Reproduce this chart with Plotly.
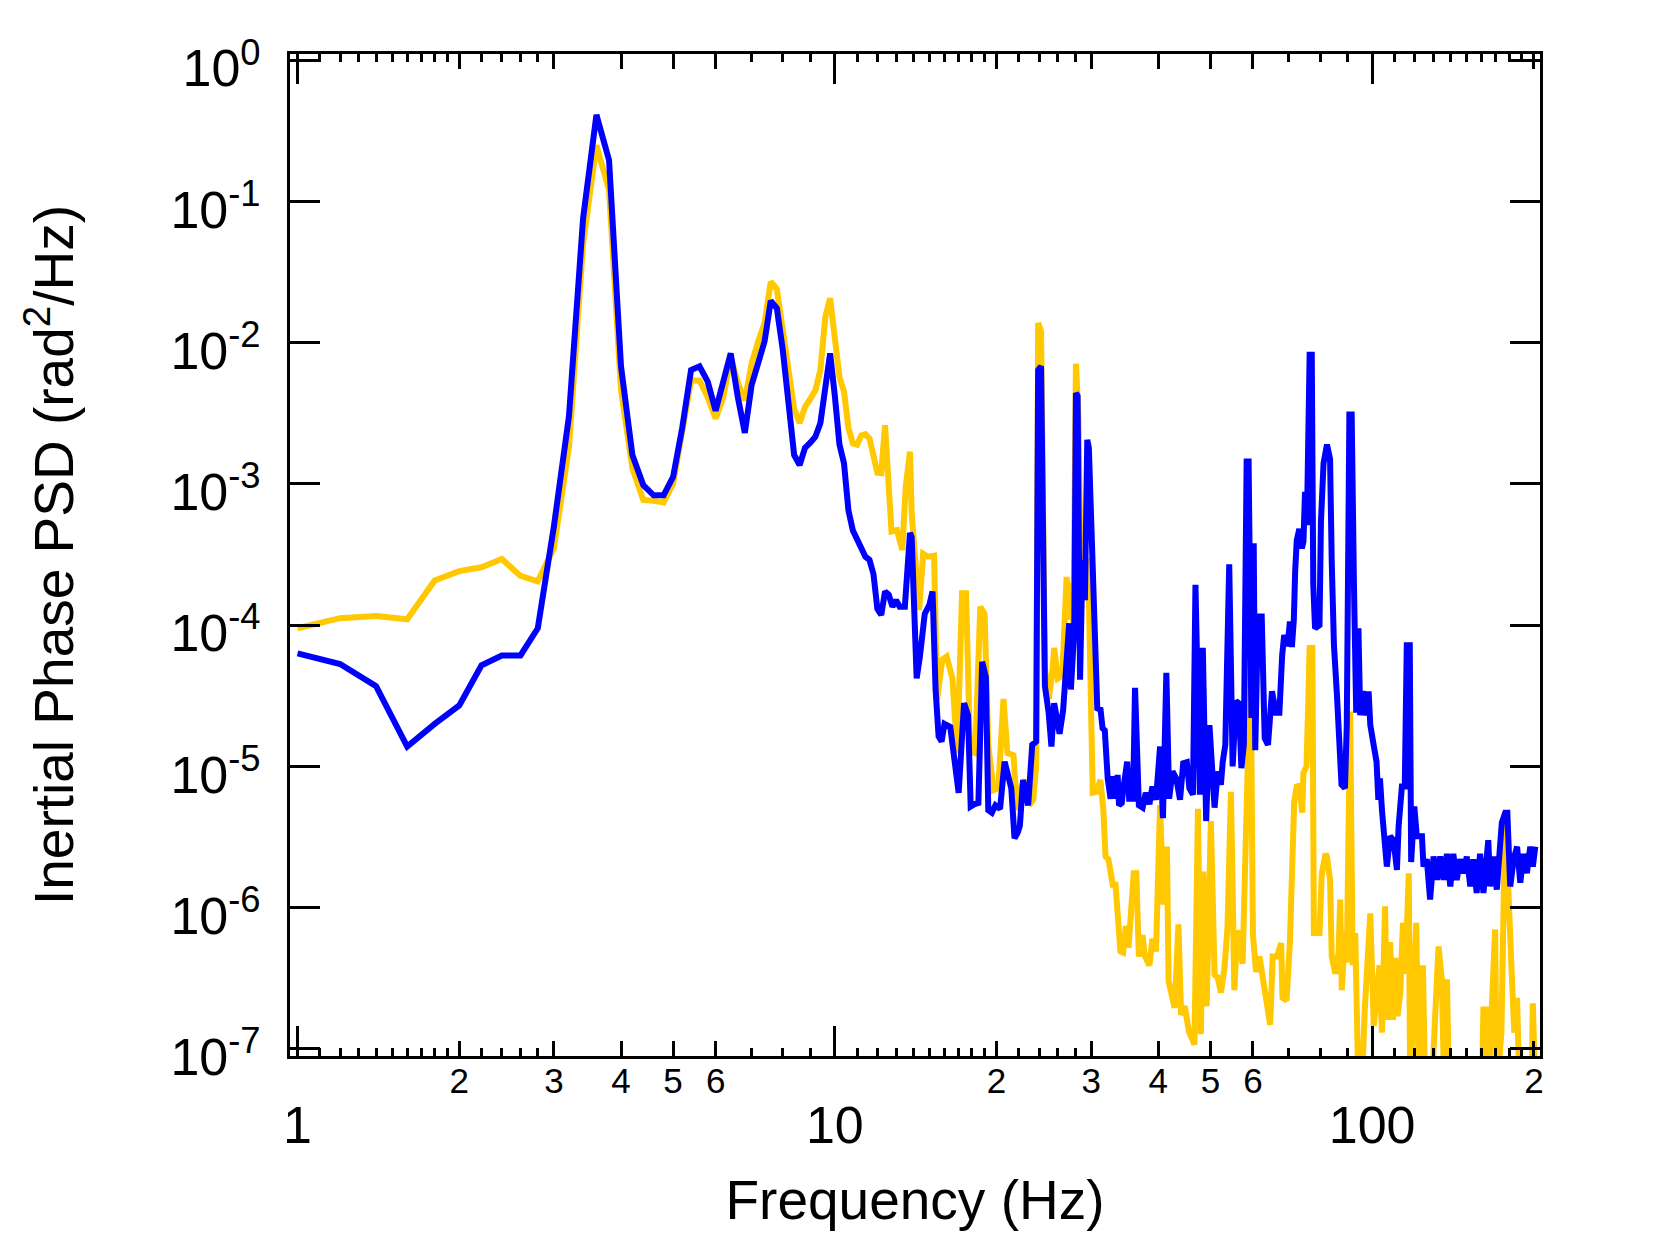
import plotly.graph_objects as go

# blue trace (frequency in Hz, PSD in rad^2/Hz)
BLUE_F = [
    1.0, 1.2, 1.4, 1.6, 1.8, 2.0, 2.2, 2.4, 2.6, 2.8,
    3.0, 3.2, 3.4, 3.6, 3.8, 4.0, 4.2, 4.4, 4.6, 4.8,
    5.0, 5.2, 5.4, 5.6, 5.8, 6.0, 6.2, 6.4, 6.6, 6.8,
    7.0, 7.2, 7.4, 7.6, 7.8, 8.0, 8.2, 8.4, 8.6, 8.8,
    9.0, 9.2, 9.4, 9.6, 9.8, 10.0, 10.2, 10.4, 10.6, 10.8,
    11.0, 11.2, 11.4, 11.6, 11.8, 12.0, 12.2, 12.4, 12.6, 12.8,
    13.0, 13.2, 13.5, 13.8, 13.9, 14.2, 14.4, 14.7, 15.0, 15.2,
    15.4, 15.6, 15.8, 16.0, 16.4, 17.0, 17.4, 17.7, 17.9, 18.2,
    18.5, 18.8, 19.1, 19.3, 19.6, 19.9, 20.3, 20.7, 21.3, 21.6,
    21.9, 22.1, 22.4, 22.9, 23.3, 23.7, 23.9, 24.2, 24.6, 25.0,
    25.3, 25.6, 26.2, 26.6, 27.0, 27.3, 27.5, 27.9, 28.1, 28.3,
    28.6, 28.9, 29.2, 29.5, 29.7, 30.2, 30.8, 31.2, 31.5, 31.8,
    32.2, 32.6, 32.9, 33.3, 33.6, 33.8, 34.2, 34.4, 35.0, 35.3,
    35.9, 36.2, 36.8, 37.4, 37.9, 38.5, 39.0, 39.6, 40.3, 40.8,
    41.4, 41.9, 42.5, 43.2, 43.9, 44.5, 45.2, 45.7, 46.4, 46.9,
    47.4, 47.8, 48.4, 49.1, 49.8, 50.9, 51.6, 52.3, 52.7, 53.3,
    54.2, 54.6, 55.0, 55.8, 56.5, 57.1, 57.7, 58.4, 58.9, 59.6,
    60.2, 60.6, 61.3, 62.3, 63.1, 64.0, 65.1, 66.2, 67.2, 68.0,
    68.6, 69.6, 70.3, 70.9, 71.5, 71.9, 72.4, 73.2, 74.0, 74.5,
    75.0, 75.6, 76.5, 77.2, 77.7, 78.3, 79.8, 80.3, 81.2, 82.4,
    83.5, 84.1, 84.9, 86.0, 86.9, 87.7, 89.0, 89.7, 90.7, 91.6,
    92.5, 93.4, 94.3, 95.0, 96.1, 97.5, 98.5, 99.2, 100.7, 101.9,
    102.7, 103.4, 104.3, 105.0, 106.5, 108.0, 109.6, 111.2, 112.0, 113.6,
    115.0, 116.0, 117.5, 118.2, 119.8, 121.1, 123.8, 124.6, 126.4, 128.2,
    130.1, 132.0, 133.9, 135.8, 137.8, 139.8, 141.6, 143.7, 145.8, 148.0,
    150.0, 152.3, 154.3, 156.5, 158.8, 161.1, 164.5, 165.8, 168.2, 170.6,
    174.3, 176.9, 178.5, 180.7, 183.4, 186.1, 188.7, 191.2, 194.1, 196.9,
    199.1, 201.2,
]
BLUE_PSD = [
    6.3e-5, 5.3e-5, 3.7e-5, 1.38e-5, 2.0e-5, 2.7e-5, 5.2e-5, 6.1e-5, 6.1e-5, 9.5e-5,
    5.0e-4, 3.0e-3, 7.6e-2, 4.1e-1, 1.96e-1, 6.8e-3, 1.6e-3, 9.8e-4, 8.3e-4, 8.3e-4,
    1.12e-3, 2.5e-3, 6.4e-3, 6.8e-3, 5.3e-3, 3.3e-3, 5.3e-3, 8.4e-3, 4.1e-3, 2.3e-3,
    5.0e-3, 7.1e-3, 1.02e-2, 1.98e-2, 1.75e-2, 8.9e-3, 3.5e-3, 1.6e-3, 1.36e-3, 1.8e-3,
    1.96e-3, 2.16e-3, 2.7e-3, 5.2e-3, 8.4e-3, 4.2e-3, 1.9e-3, 1.4e-3, 6.5e-4, 4.7e-4,
    4.1e-4, 3.5e-4, 3.05e-4, 2.9e-4, 2.3e-4, 1.3e-4, 1.18e-4, 1.73e-4, 1.64e-4, 1.35e-4,
    1.5e-4, 1.35e-4, 1.35e-4, 4.5e-4, 4.2e-4, 4.2e-5, 6.0e-5, 1.2e-4, 1.4e-4, 1.73e-4,
    3.5e-5, 1.63e-5, 1.5e-5, 2.0e-5, 1.9e-5, 6.5e-6, 2.8e-5, 2.3e-5, 5.2e-6, 5.4e-6,
    5.5e-6, 5.5e-5, 4.3e-5, 4.9e-6, 4.7e-6, 5.3e-6, 5.0e-6, 1.08e-5, 7.0e-6, 3.1e-6,
    3.4e-6, 3.8e-6, 8.0e-6, 5.3e-6, 1.42e-5, 1.5e-5, 6.4e-3, 6.8e-3, 3.7e-5, 2.4e-5,
    1.38e-5, 2.8e-5, 1.7e-5, 2.5e-5, 6.0e-5, 1.03e-4, 3.5e-5, 9.3e-5, 4.4e-3, 4.2e-3,
    4.1e-5, 2.9e-4, 1.5e-4, 2.05e-3, 1.8e-3, 2.1e-4, 2.5e-5, 2.6e-5, 1.86e-5, 1.8e-5,
    8.2e-6, 5.9e-6, 8.5e-6, 5.9e-6, 8.7e-6, 5.3e-6, 5.5e-6, 6.8e-6, 1.08e-5, 5.9e-6,
    5.9e-6, 3.6e-5, 5.3e-6, 5.1e-6, 6.5e-6, 5.4e-6, 7.2e-6, 5.8e-6, 1.38e-5, 4.3e-6,
    4.6e-5, 5.9e-6, 9.2e-6, 8.2e-6, 5.8e-6, 1.05e-5, 1.07e-5, 7.0e-6, 6.3e-6, 1.93e-4,
    1.8e-5, 6.3e-6, 6.9e-5, 4.1e-6, 1.96e-5, 5.1e-6, 9.2e-6, 7.4e-6, 1.07e-5, 1.42e-5,
    2.7e-4, 2.8e-5, 1.0e-5, 2.9e-5, 2.8e-5, 9.7e-6, 1.42e-5, 1.44e-3, 1.44e-3, 2.2e-5,
    3.8e-4, 1.3e-5, 1.15e-4, 1.15e-4, 1.58e-5, 1.42e-5, 3.4e-5, 2.4e-5, 2.4e-5, 6.1e-5,
    8.5e-5, 7.1e-5, 1.06e-4, 7.0e-5, 1.1e-4, 2.4e-4, 4.0e-4, 4.8e-4, 3.5e-4, 3.9e-4,
    8.8e-4, 5.1e-4, 8.2e-3, 8.2e-3, 1.93e-4, 9.5e-5, 1.0e-4, 5.4e-4, 1.4e-3, 1.9e-3,
    1.5e-3, 2.8e-4, 7.2e-5, 3.2e-5, 1.03e-5, 7.4e-6, 7.0e-6, 1.97e-5, 3.1e-3, 3.1e-3,
    1.93e-4, 2.4e-5, 9.5e-5, 2.3e-5, 3.4e-5, 2.3e-5, 3.4e-5, 1.97e-5, 1.4e-5, 1.08e-5,
    5.8e-6, 8.2e-6, 4.9e-6, 3.6e-6, 1.95e-6, 3.2e-6, 3.0e-6, 1.85e-6, 3.75e-6, 7.2e-6,
    7.2e-6, 7.2e-5, 7.2e-5, 2.1e-6, 5.2e-6, 3.2e-6, 3.2e-6, 1.95e-6, 2.2e-6, 1.14e-6,
    2.3e-6, 1.57e-6, 2.3e-6, 1.57e-6, 2.4e-6, 1.41e-6, 2.4e-6, 1.57e-6, 2.2e-6, 1.75e-6,
    2.3e-6, 1.41e-6, 2.2e-6, 1.27e-6, 2.4e-6, 1.27e-6, 3.0e-6, 1.41e-6, 2.3e-6, 1.34e-6,
    4.0e-6, 4.7e-6, 4.7e-6, 1.41e-6, 2.2e-6, 2.7e-6, 1.5e-6, 2.4e-6, 1.75e-6, 2.7e-6,
    1.95e-6, 2.7e-6,
]

# yellow trace (values under 1e-7 sit below the axis floor)
YELLOW_F = [
    1.0, 1.2, 1.4, 1.6, 1.8, 2.0, 2.2, 2.4, 2.6, 2.8,
    3.0, 3.2, 3.4, 3.6, 3.8, 4.0, 4.2, 4.4, 4.6, 4.8,
    5.0, 5.2, 5.4, 5.6, 5.8, 6.0, 6.2, 6.4, 6.6, 6.8,
    7.0, 7.2, 7.4, 7.6, 7.8, 8.0, 8.2, 8.4, 8.6, 8.8,
    9.0, 9.2, 9.4, 9.6, 9.8, 10.0, 10.2, 10.4, 10.6, 10.8,
    11.0, 11.2, 11.4, 11.6, 11.8, 12.0, 12.2, 12.4, 12.75, 13.05,
    13.35, 13.55, 13.8, 13.9, 14.35, 14.6, 14.9, 15.3, 15.5, 15.85,
    16.15, 16.55, 16.9, 17.25, 17.55, 17.85, 18.25, 18.65, 19.0, 19.3,
    19.75, 20.15, 20.6, 20.95, 21.5, 21.85, 22.3, 22.6, 23.0, 23.4,
    23.7, 23.9, 24.2, 24.6, 25.0, 25.4, 25.6, 26.0, 26.5, 27.0,
    27.2, 27.5, 27.8, 28.1, 28.4, 28.7, 29.0, 29.3, 29.6, 30.2,
    30.7, 31.2, 31.6, 31.9, 32.3, 32.9, 33.3, 33.6, 34.0, 34.4,
    34.8, 35.2, 35.6, 36.0, 36.4, 36.8, 37.4, 37.7, 38.5, 39.0,
    39.6, 40.3, 40.9, 41.5, 41.8, 42.3, 42.9, 43.6, 44.1, 44.8,
    45.6, 46.7, 47.4, 48.0, 48.5, 49.2, 50.1, 50.9, 51.6, 52.3,
    53.1, 53.8, 54.6, 55.4, 56.1, 57.4, 58.3, 59.4, 60.0, 60.8,
    61.7, 62.6, 63.5, 64.6, 65.3, 66.5, 67.7, 68.1, 69.3, 70.3,
    71.6, 72.4, 73.3, 74.1, 74.5, 75.5, 76.5, 77.4, 77.9, 79.8,
    80.6, 81.9, 82.4, 83.5, 84.1, 85.4, 86.6, 87.2, 87.8, 89.0,
    89.7, 91.0, 92.0, 93.0, 94.3, 95.6, 96.9, 99.2, 100.7, 102.0,
    103.2, 104.3, 105.7, 106.5, 108.0, 109.3, 110.4, 111.5, 112.8, 114.1,
    115.3, 117.0, 117.7, 119.8, 120.8, 122.1, 124.3, 125.5, 129.0, 132.9,
    134.8, 136.2, 137.8, 139.0, 160.0, 161.1, 163.0, 164.5, 169.4, 170.6,
    174.0, 176.9, 179.4, 182.0, 183.9, 186.1, 188.0, 198.0, 199.1, 201.2,
]
YELLOW_PSD = [
    9.5e-5, 1.12e-4, 1.16e-4, 1.1e-4, 2.07e-4, 2.41e-4, 2.57e-4, 2.94e-4, 2.23e-4, 2.04e-4,
    3.5e-4, 1.81e-3, 5.0e-2, 2.5e-1, 1.2e-1, 4.6e-3, 1.29e-3, 7.7e-4, 7.6e-4, 7.4e-4,
    1.0e-3, 2.4e-3, 5.4e-3, 5.4e-3, 4.1e-3, 2.9e-3, 4.1e-3, 7.9e-3, 5.2e-3, 3.9e-3,
    7.1e-3, 1.02e-2, 1.37e-2, 2.7e-2, 2.4e-2, 1.23e-2, 6.4e-3, 3.4e-3, 2.7e-3, 3.5e-3,
    4.0e-3, 4.6e-3, 6.4e-3, 1.52e-2, 2.06e-2, 1.1e-2, 5.7e-3, 4.5e-3, 2.5e-3, 1.94e-3,
    1.9e-3, 2.2e-3, 2.25e-3, 2.1e-3, 1.5e-3, 1.2e-3, 1.19e-3, 2.6e-3, 4.6e-4, 4.7e-4,
    3.4e-4, 9.5e-4, 1.69e-3, 6.2e-4, 1.28e-4, 3.2e-4, 3.05e-4, 3.1e-4, 2.96e-5, 5.7e-5,
    6.0e-5, 4.2e-5, 1.24e-5, 1.68e-4, 1.68e-4, 1.28e-5, 1.24e-5, 1.35e-4, 1.2e-4, 1.4e-5,
    6.8e-6, 7.0e-6, 3.0e-5, 1.24e-5, 1.2e-5, 4.9e-6, 7.3e-6, 8.0e-6, 5.3e-6, 5.8e-6,
    1.0e-5, 1.38e-2, 1.2e-2, 5.0e-5, 3.0e-5, 4.6e-5, 6.9e-5, 4.2e-5, 4.4e-5, 2.2e-4,
    1.09e-4, 2.0e-4, 1.0e-4, 7.1e-3, 3.0e-3, 2.0e-4, 2.3e-4, 1.9e-4, 3.0e-4, 6.5e-6,
    6.6e-6, 8.0e-6, 5.0e-6, 2.3e-6, 2.2e-6, 1.45e-6, 1.45e-6, 8.0e-7, 4.9e-7, 4.8e-7,
    7.4e-7, 5.2e-7, 8.9e-7, 1.75e-6, 1.75e-6, 4.5e-7, 6.4e-7, 4.6e-7, 3.9e-7, 6.0e-7,
    4.9e-7, 5.3e-6, 1.05e-6, 2.7e-6, 3.0e-7, 2.55e-7, 1.95e-7, 7.6e-7, 1.74e-7, 2.0e-7,
    1.33e-7, 1.07e-7, 5.0e-6, 1.27e-7, 1.8e-6, 2.0e-7, 4.1e-6, 3.35e-7, 3.2e-7, 2.5e-7,
    3.7e-7, 7.2e-7, 6.6e-6, 2.6e-7, 6.9e-7, 4.0e-7, 3.0e-6, 6.0e-5, 6.4e-7, 3.5e-7,
    4.5e-7, 3.2e-7, 2.4e-7, 1.48e-7, 4.5e-7, 4.5e-7, 5.6e-7, 2.3e-7, 2.2e-7, 5.7e-7,
    5.6e-6, 7.2e-6, 7.3e-6, 4.7e-6, 9.0e-6, 1.0e-5, 6.9e-5, 6.9e-5, 6.6e-7, 6.6e-7,
    1.75e-6, 2.4e-6, 2.3e-6, 1.57e-6, 4.5e-7, 3.4e-7, 4.8e-7, 1.14e-6, 2.6e-7, 6.6e-7,
    4.1e-7, 2.44e-5, 3.9e-7, 6.6e-7, 5.0e-8, 5.0e-8, 1.9e-7, 9.1e-7, 1.45e-7, 2.2e-7,
    3.9e-7, 1.3e-7, 1.02e-6, 1.6e-7, 5.7e-7, 1.6e-7, 4.4e-7, 1.7e-7, 2.5e-7, 7.8e-7,
    3.4e-7, 1.75e-6, 5.0e-8, 3.4e-7, 7.8e-7, 5.0e-8, 3.9e-7, 5.0e-8, 5.0e-8, 5.3e-7,
    3.1e-7, 5.0e-8, 3.1e-7, 5.0e-8, 5.0e-8, 1.9e-7, 1.9e-7, 5.0e-8, 7.0e-7, 5.0e-8,
    1.3e-7, 4.8e-6, 1.0e-6, 3.2e-7, 1.3e-7, 2.3e-7, 5.0e-8, 5.0e-8, 2.1e-7, 5.0e-8,
]

# tick positions / labels
X_MAJOR = [1, 10, 100]
X_MAJOR_TEXT = ['1', '10', '100']
X_LABELLED = [2, 3, 4, 5, 6, 20, 30, 40, 50, 60, 200]
X_LABELLED_TEXT = ['2', '3', '4', '5', '6', '2', '3', '4', '5', '6', '2']
X_MINOR = [1.1, 1.2, 1.3, 1.4, 1.5, 1.6, 1.7, 1.8, 1.9, 2.2, 2.4, 2.6, 2.8, 7, 8, 9,
           11, 12, 13, 14, 15, 16, 17, 18, 19, 22, 24, 26, 28, 70, 80, 90,
           110, 120, 130, 140, 150, 160, 170, 180, 190]
Y_TICKS = [1, 1e-1, 1e-2, 1e-3, 1e-4, 1e-5, 1e-6, 1e-7]
Y_TICK_TEXT = ['10<sup>0</sup>', '10<sup>-1</sup>', '10<sup>-2</sup>', '10<sup>-3</sup>',
               '10<sup>-4</sup>', '10<sup>-5</sup>', '10<sup>-6</sup>', '10<sup>-7</sup>']

FONT = 'Liberation Sans, Arial, sans-serif'
X_RANGE = [-0.0140, 2.3124]
Y_RANGE = [-7.051, 0.044]

fig = go.Figure()

fig.add_trace(go.Scatter(x=YELLOW_F, y=YELLOW_PSD, mode='lines',
                         line=dict(color='#FFC800', width=6), showlegend=False))
fig.add_trace(go.Scatter(x=BLUE_F, y=BLUE_PSD, mode='lines',
                         line=dict(color='#0000FF', width=6), showlegend=False))
# empty trace so the labelled-minor axis gets drawn
fig.add_trace(go.Scatter(x=[], y=[], xaxis='x2', showlegend=False))

# page body adds ~8px, so the figure is 8px smaller than the window
fig.update_layout(
    width=1653, height=1227,
    margin=dict(l=282, r=121, t=46, b=179),
    paper_bgcolor='white', plot_bgcolor='white',
    font=dict(family=FONT, color='black'),
    xaxis=dict(
        type='log', range=X_RANGE, automargin=False,
        tickmode='array', tickvals=X_MAJOR, ticktext=X_MAJOR_TEXT,
        ticks='inside', ticklen=30, tickwidth=3, tickcolor='black',
        tickfont=dict(size=52), ticklabelstandoff=22,
        showline=True, linewidth=3, linecolor='black', mirror='allticks',
        showgrid=False, zeroline=False,
        minor=dict(tickmode='array', tickvals=X_MINOR, ticks='inside',
                   ticklen=8, tickwidth=3, tickcolor='black', showgrid=False),
        title=dict(text='Frequency (Hz)', font=dict(size=55), standoff=28),
    ),
    xaxis2=dict(
        type='log', range=X_RANGE, overlaying='x', anchor='y', side='bottom',
        automargin=False,
        tickmode='array', tickvals=X_LABELLED, ticktext=X_LABELLED_TEXT,
        ticks='inside', ticklen=15, tickwidth=3, tickcolor='black',
        tickfont=dict(size=35), ticklabelstandoff=-8,
        showline=True, linewidth=3, linecolor='black', mirror='allticks',
        showgrid=False, zeroline=False,
    ),
    yaxis=dict(
        type='log', range=Y_RANGE, automargin=False,
        tickmode='array', tickvals=Y_TICKS, ticktext=Y_TICK_TEXT,
        ticks='inside', ticklen=30, tickwidth=3, tickcolor='black',
        tickfont=dict(size=52), ticklabelstandoff=16, ticklabelshift=8,
        showline=True, linewidth=3, linecolor='black', mirror='ticks',
        showgrid=False, zeroline=False,
        title=dict(text='Inertial Phase PSD (rad<sup>2</sup>/Hz)', font=dict(size=55), standoff=80),
    ),
)

fig.write_html('out.html')
